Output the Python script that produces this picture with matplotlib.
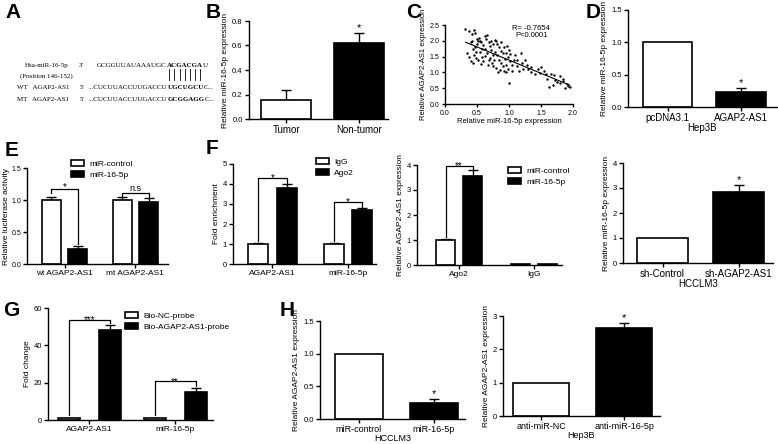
import matplotlib
matplotlib.use('Agg')
import matplotlib.pyplot as plt
import numpy as np
from matplotlib.patches import Patch

plt.rcParams['font.family'] = ['Liberation Sans', 'DejaVu Sans']

W, H = 778, 444

# ---- data ----
# A: sequences
mir_seq = [('GCGGUUAUAAAUGC', False), ('ACGACGA', True), ('U', False)]
wt_seq = [('...CUCUUACCUUGACCU', False), ('UGCUGCU', True), ('C...', False)]
mt_seq = [('...CUCUUACCUUGACCU', False), ('GCGGAGG', True), ('C...', False)]

# B
b_groups = ['Tumor', 'Non-tumor']
b_vals = [0.155, 0.62]
b_errs = [0.08, 0.08]

# C scatter
c_mir = [0.32, 0.38, 0.42, 0.45, 0.47, 0.40, 0.43, 0.45, 0.48, 0.50, 0.52, 0.55, 0.50, 0.47, 0.55,
         0.58, 0.60, 0.62, 0.65, 0.68, 0.70, 0.72, 0.60, 0.63, 0.66, 0.70, 0.73, 0.75, 0.78, 0.80,
         0.82, 0.85, 0.78, 0.82, 0.85, 0.88, 0.90, 0.92, 0.88, 0.92, 0.95, 0.98, 1.00, 1.02, 1.05,
         0.95, 0.98, 1.00, 1.05, 1.08, 1.10, 1.12, 1.15, 1.18, 1.20, 1.25, 1.28, 1.30, 1.35, 1.40,
         1.45, 1.50, 1.55, 1.58, 1.60, 1.62, 1.65, 1.70, 1.72, 1.75, 1.80, 1.85, 1.88, 1.90, 1.92,
         1.95, 0.35, 0.38, 0.40, 0.44, 0.52, 0.56, 0.58, 0.62, 0.67, 0.75, 0.77, 0.80, 0.83, 0.86,
         0.90, 0.93, 0.96, 1.02, 0.53, 0.57, 0.64, 0.72, 0.75, 0.87, 0.97, 0.42, 0.48, 0.68, 1.12,
         1.22, 1.35, 1.48, 1.68, 1.80, 1.85]
c_agap = [2.38, 2.30, 2.22, 2.33, 2.25, 1.95, 1.75, 1.55, 1.45, 2.05, 1.98, 2.00, 1.90, 1.80, 1.65,
          1.50, 1.35, 2.15, 2.18, 1.95, 1.85, 1.70, 1.88, 1.75, 1.60, 1.45, 1.30, 1.20, 2.02, 1.98,
          1.90, 1.80, 1.65, 1.55, 1.40, 1.30, 1.20, 1.05, 1.95, 1.80, 1.60, 1.48, 1.72, 1.35, 1.05,
          1.00, 1.10, 0.68, 1.25, 1.40, 1.55, 1.20, 1.05, 1.62, 1.30, 1.40, 1.25, 1.10, 1.00, 0.95,
          1.12, 1.18, 1.05, 0.95, 0.80, 0.55, 0.96, 0.92, 0.75, 0.70, 0.65, 0.73, 0.50, 0.62, 0.58,
          0.55, 1.60, 1.50, 1.35, 1.30, 1.40, 1.28, 1.75, 1.52, 1.25, 1.55, 1.40, 1.15, 1.02, 1.08,
          1.60, 1.42, 1.25, 1.58, 2.10, 1.95, 2.05, 2.00, 1.90, 1.68, 1.85, 2.00, 1.65, 1.38, 1.38,
          1.12, 1.18, 0.98, 0.60, 0.90, 0.80]

# D
d_groups = ['pcDNA3.1', 'AGAP2-AS1']
d_vals = [1.0, 0.23]
d_errs = [0.0, 0.06]

# E
e_groups = ['wt AGAP2-AS1', 'mt AGAP2-AS1']
e_ctrl = [1.0, 1.0]
e_ctrl_err = [0.05, 0.05]
e_mir = [0.23, 0.97]
e_mir_err = [0.05, 0.06]

# F (RIP)
f1_groups = ['AGAP2-AS1', 'miR-16-5p']
f1_igg = [1.0, 1.0]
f1_igg_err = [0.06, 0.03]
f1_ago = [3.78, 2.68]
f1_ago_err = [0.2, 0.14]

f2_groups = ['Ago2', 'IgG']
f2_ctrl = [1.0, 0.04]
f2_ctrl_err = [0.06, 0.0]
f2_mir = [3.55, 0.04]
f2_mir_err = [0.25, 0.0]

f3_groups = ['sh-Control', 'sh-AGAP2-AS1']
f3_vals = [1.0, 2.82]
f3_errs = [0.0, 0.28]

# G
g_groups = ['AGAP2-AS1', 'miR-16-5p']
g_nc = [1.0, 1.0]
g_bio = [48.0, 15.0]
g_bio_err = [3.0, 2.0]

# H
h1_groups = ['miR-control', 'miR-16-5p']
h1_vals = [1.0, 0.25]
h1_errs = [0.0, 0.06]
h2_groups = ['anti-miR-NC', 'anti-miR-16-5p']
h2_vals = [1.0, 2.63]
h2_errs = [0.0, 0.15]

fig = plt.figure(figsize=(W / 100, H / 100), dpi=100)
bg = fig.add_axes([0, 0, 1, 1])
bg.axis('off')
bg.set_xlim(0, W)
bg.set_ylim(H, 0)


def add_ax(x0, y0, x1, y1):
    ax = fig.add_axes([x0 / W, 1 - y1 / H, (x1 - x0) / W, (y1 - y0) / H])
    ax.spines[['top', 'right']].set_visible(False)
    ax.spines['left'].set_linewidth(1.0)
    ax.spines['bottom'].set_linewidth(1.0)
    ax.tick_params(length=3, width=1, labelsize=5.5, pad=1.5)
    ax.patch.set_alpha(0)
    return ax


def up_err(ax, x, vals, errs):
    x = np.asarray(x, float)
    vals = np.asarray(vals, float)
    errs = np.asarray(errs, float)
    m = errs > 0
    if m.any():
        ax.errorbar(x[m], vals[m], yerr=[np.zeros(m.sum()), errs[m]], fmt='none',
                    ecolor='k', elinewidth=1, capsize=3.5, capthick=1, zorder=1)


def bracket(ax, xa, xb, ya, yb, ytop, label, fs=7, dy=0.0):
    ax.plot([xa, xa, xb, xb], [ya, ytop, ytop, yb], color='k', lw=0.9, clip_on=False)
    ax.text((xa + xb) / 2, ytop + dy, label, ha='center', va='bottom', fontsize=fs, clip_on=False)


def simple_bars(ax, groups, vals, errs, width):
    x = np.arange(len(groups))
    ax.bar(x, vals, width, color=['white', 'black'], edgecolor='k', linewidth=1.2, zorder=2)
    up_err(ax, x, vals, errs)
    ax.set_xticks(x)
    ax.set_xticklabels(groups)
    return x


def pair_bars(ax, groups, v1, e1, v2, e2, width, off):
    x = np.arange(len(groups))
    ax.bar(x - off, v1, width, color='white', edgecolor='k', linewidth=1.2, zorder=2)
    ax.bar(x + off, v2, width, color='black', edgecolor='k', linewidth=1.2, zorder=2)
    up_err(ax, x - off, v1, e1)
    up_err(ax, x + off, v2, e2)
    ax.set_xticks(x)
    ax.set_xticklabels(groups)
    return x


def legend(ax, labels, x, y):
    hs = [Patch(facecolor='white', edgecolor='k', linewidth=1.2),
          Patch(facecolor='black', edgecolor='k', linewidth=1.2)]
    ax.legend(hs, labels, loc='upper left', bbox_to_anchor=(x / W, 1 - y / H),
              bbox_transform=fig.transFigure, frameon=False, fontsize=6,
              handlelength=1.6, handleheight=0.8, labelspacing=0.35, borderpad=0,
              handletextpad=0.6, borderaxespad=0)


# panel letters
for lab, (lx, ly) in {'A': (5, 13), 'B': (206, 13), 'C': (406, 13), 'D': (586, 13),
                      'E': (5, 150), 'F': (206, 148), 'G': (3, 310), 'H': (280, 310)}.items():
    bg.text(lx, ly, lab, fontsize=15, fontweight='bold', va='center', ha='left')

# ---- A ----
serif = dict(family=['Liberation Serif', 'DejaVu Serif'], fontsize=5, va='bottom', ha='left')


def seq_row(x, y, pieces):
    t = bg.text(x, y, pieces[0][0], fontweight='bold' if pieces[0][1] else 'normal', **serif)
    out = []
    for s, bold in pieces[1:]:
        t = bg.annotate(s, xy=(1, 0), xycoords=t, fontweight='bold' if bold else 'normal', **serif)
        out.append(t)
    return out


bg.text(25, 68, 'Hsa-miR-16-5p', **serif)
bg.text(79, 68, "3'", **serif)
mir_parts = seq_row(97, 68, mir_seq)
bg.text(20, 79, '(Position 146-152)', **serif)
bg.text(17, 90, 'WT   AGAP2-AS1', **serif)
bg.text(80, 90, "5'", **serif)
seq_row(89, 90, wt_seq)
bg.text(17, 102, 'MT   AGAP2-AS1', **serif)
bg.text(80, 102, "5'", **serif)
seq_row(89, 102, mt_seq)

# ---- B ----
axB = add_ax(249, 21, 388, 119)
xb = simple_bars(axB, b_groups, b_vals, b_errs, 0.68)
axB.set_xlim(-0.51, 1.40)
axB.set_ylim(0, 0.8)
axB.set_yticks(np.arange(0, 0.81, 0.2))
axB.set_yticklabels([f'{v:.1f}' for v in np.arange(0, 0.81, 0.2)])
axB.tick_params(axis='x', labelsize=7)
axB.set_ylabel('Relative miR-16-5p expression', fontsize=6, labelpad=2)
axB.text(xb[1], b_vals[1] + b_errs[1], '*', ha='center', va='bottom', fontsize=8)

# ---- C ----
axC = add_ax(445, 25, 573, 104)
axC.scatter(c_mir, c_agap, s=3, color='k', linewidths=0, zorder=3)
k, b0 = np.polyfit(c_mir, c_agap, 1)
xx = np.array([min(c_mir), max(c_mir)])
axC.plot(xx, k * xx + b0, color='k', lw=0.8)
axC.set_xlim(0, 2.0)
axC.set_ylim(0, 2.5)
axC.set_xticks(np.arange(0, 2.01, 0.5))
axC.set_yticks(np.arange(0, 2.51, 0.5))
axC.xaxis.set_major_formatter('{x:.1f}')
axC.yaxis.set_major_formatter('{x:.1f}')
axC.tick_params(labelsize=5, length=2.5)
axC.set_xlabel('Relative miR-16-5p expression', fontsize=5.5, labelpad=1)
axC.set_ylabel('Relative AGAP2-AS1 expression', fontsize=5.5, labelpad=2)
axC.text(1.35, 2.05, 'R= -0.7654\nP<0.0001', fontsize=5.5, ha='center', va='bottom', linespacing=1.1)

# ---- D ----
axD = add_ax(628, 10, 777, 107)
xd = simple_bars(axD, d_groups, d_vals, d_errs, 0.67)
axD.set_xlim(-0.54, 1.49)
axD.set_ylim(0, 1.5)
axD.set_yticks([0, 0.5, 1.0, 1.5])
axD.yaxis.set_major_formatter('{x:.1f}')
axD.tick_params(axis='x', labelsize=7)
axD.set_ylabel('Relative miR-16-5p expression', fontsize=6, labelpad=2)
axD.set_xlabel('Hep3B', fontsize=7, labelpad=0)
axD.text(xd[1], d_vals[1] + d_errs[1], '*', ha='center', va='bottom', fontsize=8)

# ---- E ----
axE = add_ax(27, 168, 168, 264)
xe = pair_bars(axE, e_groups, e_ctrl, e_ctrl_err, e_mir, e_mir_err, 0.27, 0.185)
axE.set_xlim(-0.53, 1.46)
axE.set_ylim(0, 1.5)
axE.set_yticks([0, 0.5, 1.0, 1.5])
axE.yaxis.set_major_formatter('{x:.1f}')
axE.tick_params(axis='y', labelsize=5, pad=1)
axE.tick_params(axis='x', labelsize=6)
axE.set_ylabel('Relative luciferase activity', fontsize=6, labelpad=1)
bracket(axE, xe[0] - 0.185, xe[0] + 0.185, e_ctrl[0] + e_ctrl_err[0] + 0.06,
        e_mir[0] + e_mir_err[0] + 0.04, 1.17, '*', fs=7, dy=-0.05)
bracket(axE, xe[1] - 0.185, xe[1] + 0.185, e_ctrl[1] + e_ctrl_err[1] + 0.02,
        e_mir[1] + e_mir_err[1] + 0.02, 1.11, 'n.s', fs=6.5)
legend(axE, ['miR-control', 'miR-16-5p'], 71, 160)

# ---- F1 ----
axF1 = add_ax(233, 164, 376, 264)
xf = pair_bars(axF1, f1_groups, f1_igg, f1_igg_err, f1_ago, f1_ago_err, 0.265, 0.19)
axF1.set_xlim(-0.52, 1.37)
axF1.set_ylim(0, 5)
axF1.set_yticks(range(6))
axF1.tick_params(axis='x', labelsize=6)
axF1.set_ylabel('Fold enrichment', fontsize=6, labelpad=2)
bracket(axF1, xf[0] - 0.19, xf[0] + 0.19, f1_igg[0] + f1_igg_err[0] + 0.1,
        f1_ago[0] + f1_ago_err[0] + 0.05, 4.3, '*', fs=7, dy=-0.25)
bracket(axF1, xf[1] - 0.19, xf[1] + 0.19, f1_igg[1] + f1_igg_err[1] + 0.1,
        f1_ago[1] + f1_ago_err[1] + 0.05, 3.1, '*', fs=7, dy=-0.25)
legend(axF1, ['IgG', 'Ago2'], 316, 158)

# ---- F2 ----
axF2 = add_ax(417, 165, 562, 265)
xf2 = pair_bars(axF2, f2_groups, f2_ctrl, f2_ctrl_err, f2_mir, f2_mir_err, 0.26, 0.18)
axF2.set_xlim(-0.56, 1.37)
axF2.set_ylim(0, 4)
axF2.set_yticks(range(5))
axF2.tick_params(axis='x', labelsize=6)
axF2.set_ylabel('Relative AGAP2-AS1 expression', fontsize=6, labelpad=2)
bracket(axF2, xf2[0] - 0.18, xf2[0] + 0.18, f2_ctrl[0] + f2_ctrl_err[0] + 0.05,
        f2_mir[0] + f2_mir_err[0] + 0.03, 3.96, '**', fs=7, dy=-0.2)
legend(axF2, ['miR-control', 'miR-16-5p'], 508, 167)

# ---- F3 ----
axF3 = add_ax(623, 163, 773, 263)
xf3 = simple_bars(axF3, f3_groups, f3_vals, f3_errs, 0.67)
axF3.set_xlim(-0.52, 1.45)
axF3.set_ylim(0, 4)
axF3.set_yticks(range(5))
axF3.tick_params(axis='x', labelsize=7)
axF3.set_ylabel('Relative miR-16-5p expression', fontsize=6, labelpad=2)
axF3.set_xlabel('HCCLM3', fontsize=7, labelpad=0)
axF3.text(xf3[1], f3_vals[1] + f3_errs[1], '*', ha='center', va='bottom', fontsize=8)

# ---- G ----
axG = add_ax(48, 308, 213, 420)
xg = pair_bars(axG, g_groups, g_nc, [0, 0], g_bio, g_bio_err, 0.256, 0.24)
axG.set_xlim(-0.48, 1.44)
axG.set_ylim(0, 60)
axG.set_yticks([0, 20, 40, 60])
axG.tick_params(axis='x', labelsize=6)
axG.set_ylabel('Fold change', fontsize=6, labelpad=2)
bracket(axG, xg[0] - 0.24, xg[0] + 0.24, g_nc[0] + 1.5, g_bio[0] + g_bio_err[0] + 1,
        53.6, '***', fs=7, dy=-3)
bracket(axG, xg[1] - 0.24, xg[1] + 0.24, g_nc[1] + 1.5, g_bio[1] + g_bio_err[1] + 1,
        20.9, '**', fs=7, dy=-3)
legend(axG, ['Bio-NC-probe', 'Bio-AGAP2-AS1-probe'], 125, 312)

# ---- H ----
axH1 = add_ax(320, 321, 465, 419)
xh = simple_bars(axH1, h1_groups, h1_vals, h1_errs, 0.64)
axH1.set_xlim(-0.52, 1.42)
axH1.set_ylim(0, 1.5)
axH1.set_yticks([0, 0.5, 1.0, 1.5])
axH1.yaxis.set_major_formatter('{x:.1f}')
axH1.tick_params(axis='x', labelsize=6.5)
axH1.set_ylabel('Relative AGAP2-AS1 expression', fontsize=6, labelpad=2)
axH1.set_xlabel('HCCLM3', fontsize=6.5, labelpad=0)
axH1.text(xh[1], h1_vals[1] + h1_errs[1], '*', ha='center', va='bottom', fontsize=8)

axH2 = add_ax(503, 316, 660, 416)
xh2 = simple_bars(axH2, h2_groups, h2_vals, h2_errs, 0.67)
axH2.set_xlim(-0.46, 1.43)
axH2.set_ylim(0, 3)
axH2.set_yticks([0, 1, 2, 3])
axH2.tick_params(axis='x', labelsize=6.5)
axH2.set_ylabel('Relative AGAP2-AS1 expression', fontsize=6, labelpad=2)
axH2.set_xlabel('Hep3B', fontsize=6.5, labelpad=0)
axH2.text(xh2[1], h2_vals[1] + h2_errs[1], '*', ha='center', va='bottom', fontsize=8)

# pairing lines in panel A under the bold seed match
fig.canvas.draw()
r = fig.canvas.get_renderer()
ext = mir_parts[0].get_window_extent(r)
inv = bg.transData.inverted()
(xa, ya), (xb2, yb2) = inv.transform([[ext.x0, ext.y0], [ext.x1, ext.y1]])
n = len(mir_seq[1][0])
step = (xb2 - xa) / n
for i in range(n):
    xl = xa + step * (i + 0.5)
    bg.plot([xl, xl], [69.5, 80.5], color='k', lw=0.6)

fig.savefig('out.png', dpi=100)
